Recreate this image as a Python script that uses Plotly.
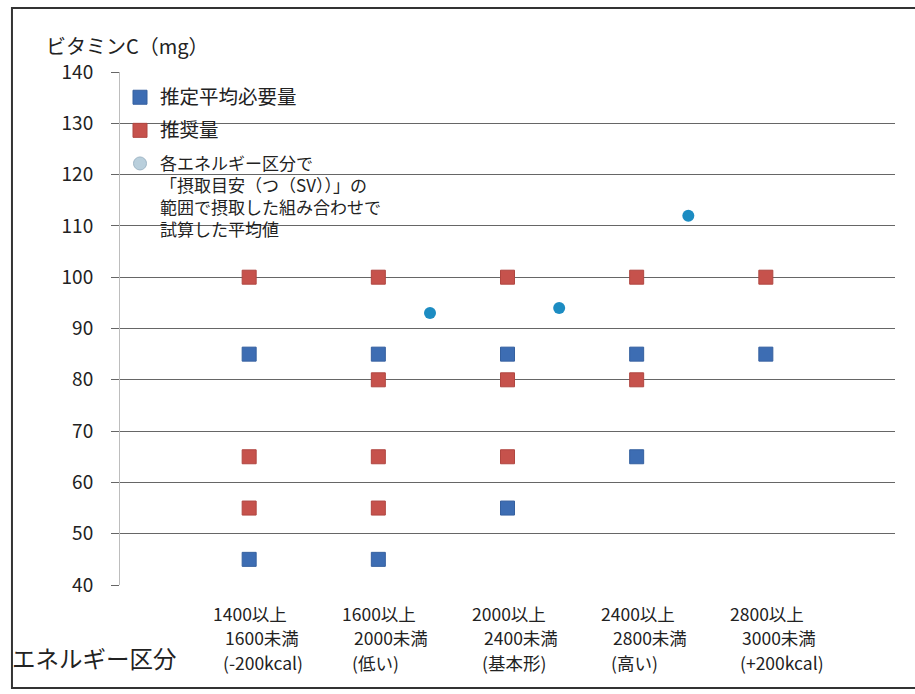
import plotly.graph_objects as go

# Energy categories (x positions 1..5)
cat_x = [1, 2, 3, 4, 5]
cat_line1 = ["1400以上", "1600以上", "2000以上", "2400以上", "2800以上"]
cat_line2 = ["1600未満", "2000未満", "2400未満", "2800未満", "3000未満"]
cat_line3 = ["(-200kcal)", "(低い)", "(基本形)", "(高い)", "(+200kcal)"]

# 推定平均必要量 (estimated average requirement)
ear_x = [1, 1, 2, 2, 3, 3, 4, 4, 5]
ear_y = [85, 45, 85, 45, 85, 55, 85, 65, 85]

# 推奨量 (recommended amount)
rda_x = [1, 1, 1, 2, 2, 2, 2, 3, 3, 3, 4, 4, 5]
rda_y = [100, 65, 55, 100, 80, 65, 55, 100, 80, 65, 100, 80, 100]

# 試算した平均値 (calculated averages)
avg_x = [2.4, 3.4, 4.4]
avg_y = [93, 94, 112]

y_ticks = [40, 50, 60, 70, 80, 90, 100, 110, 120, 130, 140]

FONT = "Noto Sans CJK JP"
TXT = "#222222"


def big(s):
    return '<span style="font-size:19.5px">' + s + "</span>"


fig = go.Figure()
fig.add_trace(go.Scatter(
    x=ear_x, y=ear_y, mode="markers", name=big("推定平均必要量"), legendgroup="a",
    marker=dict(symbol="square", size=14, color="#3d6db3",
                line=dict(color="#35609f", width=1)),
))
fig.add_trace(go.Scatter(
    x=rda_x, y=rda_y, mode="markers", name=big("推奨量"), legendgroup="b",
    marker=dict(symbol="square", size=14, color="#c6524c",
                line=dict(color="#b04640", width=1)),
))
fig.add_trace(go.Scatter(
    x=avg_x, y=avg_y, mode="markers", showlegend=False,
    marker=dict(symbol="circle", size=12, color="#1c8cc2"),
))
# legend entry for the averages, drawn in its lighter legend tint
fig.add_trace(go.Scatter(
    x=[None], y=[None], mode="markers", legendgroup="c",
    name="各エネルギー区分で<br>「摂取目安（つ（SV））」の<br>範囲で摂取した組み合わせで<br>試算した平均値",
    marker=dict(symbol="circle", size=13, color="#b9cfdc",
                line=dict(color="#9fb6c6", width=1)),
))

# category labels below the axis, one annotation per line
line_rows = [(cat_line1, -0.0546, -38), (cat_line2, -0.1014, -26), (cat_line3, -0.1501, -28)]
for labels, ypos, shift in line_rows:
    for xv, txt in zip(cat_x, labels):
        fig.add_annotation(
            x=xv, y=ypos, xref="x", yref="paper", xshift=shift,
            text=txt, showarrow=False, xanchor="left", yanchor="middle",
            font=dict(family=FONT, size=17.5, color=TXT),
        )

fig.add_annotation(x=-0.0977, y=1.051, xref="paper", yref="paper",
                   text="ビタミンC（mg）", showarrow=False,
                   xanchor="left", yanchor="middle",
                   font=dict(family=FONT, size=20, color=TXT))
fig.add_annotation(x=-0.142, y=-0.1423, xref="paper", yref="paper",
                   text="エネルギー区分", showarrow=False,
                   xanchor="left", yanchor="middle",
                   font=dict(family=FONT, size=23.5, color=TXT))

# outer frame
fig.add_shape(type="rect", xref="paper", yref="paper",
              x0=-0.1394, x1=1.04, y0=-0.2008, y1=1.1248,
              line=dict(color="#333333", width=2), layer="below")

fig.update_layout(
    width=915, height=694,
    margin=dict(l=120, r=20, t=72, b=109),
    paper_bgcolor="white", plot_bgcolor="white",
    font=dict(family=FONT, color=TXT),
    showlegend=True,
    legend=dict(x=0.0, y=0.985, xanchor="left", yanchor="top",
                bgcolor="rgba(255,255,255,0)", valign="top",
                font=dict(family=FONT, size=17, color=TXT),
                tracegroupgap=8, itemwidth=30),
    xaxis=dict(range=[0, 6], showgrid=False, zeroline=False,
               showticklabels=False, showline=False, ticks=""),
    yaxis=dict(range=[40, 140], tickvals=y_ticks, showgrid=True,
               gridcolor="#666666", gridwidth=1, zeroline=False,
               showline=True, linecolor="#bdbdbd", linewidth=1,
               ticks="outside", ticklen=8, tickcolor="#666666",
               ticklabelstandoff=14,
               tickfont=dict(family=FONT, size=19, color=TXT)),
)

fig.write_html("out.html")
